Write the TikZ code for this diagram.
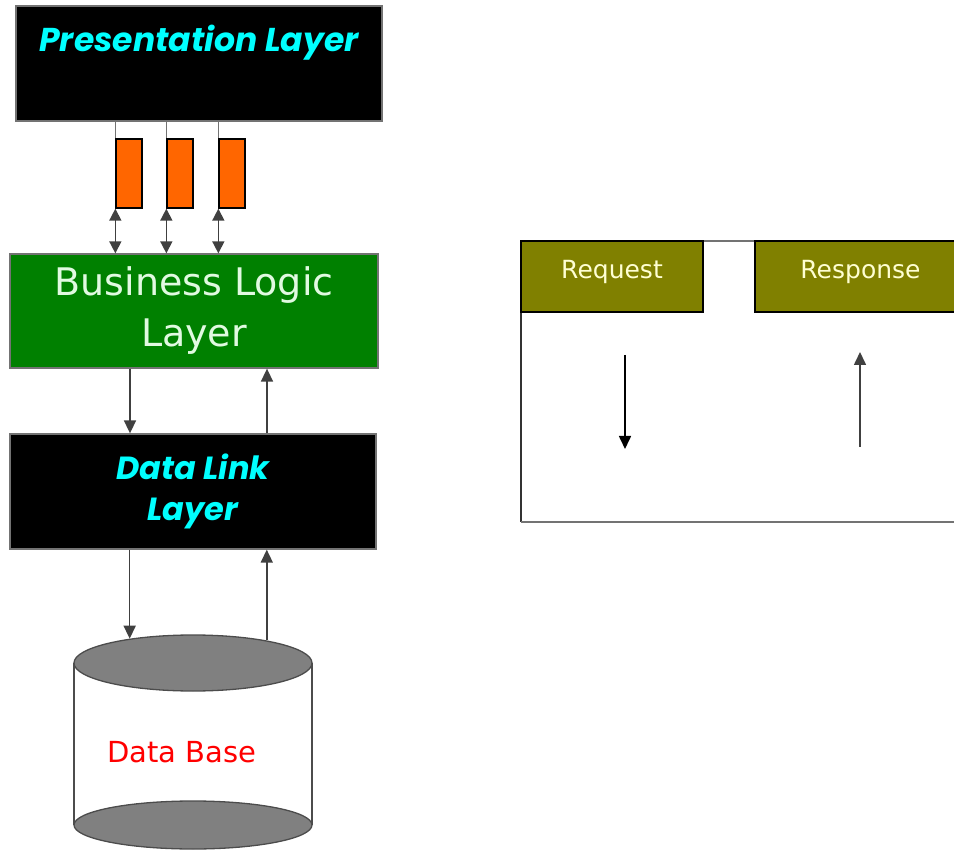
\documentclass[tikz,border=0pt]{standalone}
\usepackage{fontspec}
\usetikzlibrary{arrows.meta,shapes.geometric}
\newfontfamily\headfont{Poppins}
\newfontfamily\handfont{DejaVu Sans}
\definecolor{laycyan}{RGB}{0,255,255}
\definecolor{laygreen}{RGB}{0,128,0}
\definecolor{olivebox}{RGB}{128,128,0}
\definecolor{plugorange}{RGB}{255,102,0}
\definecolor{creamtext}{RGB}{255,255,210}
\definecolor{mintext}{RGB}{225,250,225}
\begin{document}
\begin{tikzpicture}[x=1pt,y=-1pt,
    layer/.style={draw=black!55,line width=1.3pt,inner sep=0pt},
    plug/.style={draw=black,line width=1.3pt,fill=plugorange,minimum width=26pt,minimum height=69pt,inner sep=0pt},
    tab/.style={draw=black,line width=1.3pt,fill=olivebox,minimum height=71pt,text depth=14pt,
        text=creamtext,font=\handfont\fontsize{25}{28}\selectfont},
    arr/.style={line width=1.6pt,draw=black!75,-{Triangle[length=13pt,width=12pt]}},
    dblarr/.style={line width=1.6pt,draw=black!75,{Triangle[length=12pt,width=12pt]}-{Triangle[length=12pt,width=12pt]}}]
            \useasboundingbox (0,0) rectangle (954,850);
            \clip (0,0) rectangle (954,850);

            % left stack
            \node[layer,fill=black,minimum width=366pt,minimum height=115pt] (pres) at (199,63.5) {};
            \node[text=laycyan,font=\headfont\bfseries\itshape\fontsize{33}{36}\selectfont] (prestxt) at (199,43) {Presentation Layer};
            \node[plug] (p1) at (129,173.5) {};
            \node[plug] (p2) at (180,173.5) {};
            \node[plug] (p3) at (232,173.5) {};
            \node[layer,fill=laygreen,minimum width=368pt,minimum height=114pt,align=center,
                text=mintext,font=\handfont\fontsize{38}{51}\selectfont] (blogic) at (194,311) {Business Logic\\Layer};
            \node[layer,fill=black,minimum width=366pt,minimum height=115pt,align=center,
                text=laycyan,font=\headfont\bfseries\itshape\fontsize{32}{41}\selectfont] (dlink) at (193,491.5) {Data Link\\Layer};

            \foreach \p in {p1,p2,p3} {
                \draw[line width=1.6pt,black!55] (\p.north west) -- (\p.north west |- pres.south);
                \draw[dblarr] (\p.south west) -- (\p.south west |- blogic.north);
            }
            \draw[arr] ([xshift=-64pt]blogic.south) -- ([xshift=-64pt]blogic.south |- dlink.north);
            \draw[arr] ([xshift=73pt]blogic.south |- dlink.north) -- ([xshift=73pt]blogic.south);

            % database
            \draw[line width=1.3pt,black!70] (74,663) -- (74,825);
            \draw[line width=1.3pt,black!70] (312,663) -- (312,825);
            \draw[line width=1.3pt,black!70,fill=black!50] (193,825) ellipse (119 and 24);
            \node[ellipse,draw=black!70,line width=1.3pt,fill=black!50,minimum width=238pt,minimum height=56pt] (dbtop) at (193,663) {};
            \node[text=red,font=\handfont\fontsize{29}{32}\selectfont] (dbtxt) at (182,752) {Data Base};
            \draw[arr] (dbtop.159 |- dlink.south) -- (dbtop.159);
            \draw[arr] (dbtop.17) -- (dbtop.17 |- dlink.south);

            % request / response panel
            \draw[line width=1.5pt,black!55] (521,241) -- (970,241);
            \draw[line width=1.5pt,black!80] (521,241) -- (521,522);
            \draw[line width=1.5pt,black!55] (521,522) -- (970,522);
            \node[tab,minimum width=182pt] (req) at (612,276.5) {Request};
            \node[tab,minimum width=211pt] (resp) at (860.5,276.5) {Response};
            \coordinate (reqtop) at (625,355);
            \coordinate (reqbot) at (625,449);
            \coordinate (resptop) at (860,352);
            \coordinate (respbot) at (860,447);
            \draw[arr,black] (reqtop) -- (reqbot);
            \draw[arr] (respbot) -- (resptop);
\end{tikzpicture}
\end{document}
